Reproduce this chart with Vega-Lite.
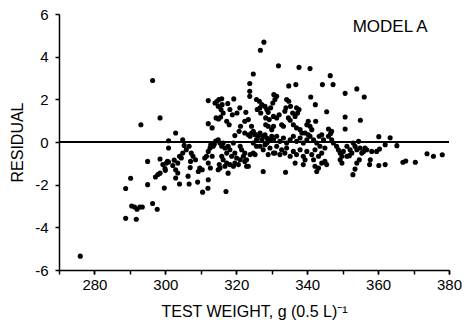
{
  "$schema": "https://vega.github.io/schema/vega-lite/v6.json",
  "width": 390,
  "height": 256,
  "autosize": "none",
  "padding": {"left": 59, "top": 14, "right": 16, "bottom": 60},
  "background": "white",
  "config": {
    "view": {"stroke": null},
    "font": "Liberation Sans",
    "axis": {
      "grid": false,
      "domainColor": "#000",
      "domainWidth": 1.5,
      "tickColor": "#000",
      "tickWidth": 1.5,
      "tickSize": 4,
      "labelColor": "#000",
      "labelFont": "Liberation Sans",
      "labelFontSize": 15,
      "labelOverlap": false,
      "titleColor": "#000",
      "titleFont": "Liberation Sans",
      "titleFontWeight": "normal",
      "titleFontSize": 16
    }
  },
  "resolve": {"axis": {"x": "independent"}},
  "layer": [
    {
      "data": {
        "values": [
          {"weight": 276, "residual": -5.35}, {"weight": 288.8, "residual": -2.18}, {"weight": 290.2, "residual": -1.7}, {"weight": 288.8, "residual": -3.58}, {"weight": 291.8, "residual": -3.62}, {"weight": 290.5, "residual": -3.0}, {"weight": 291.3, "residual": -3.05}, {"weight": 292.0, "residual": -3.15}, {"weight": 292.8, "residual": -3.05}, {"weight": 293.5, "residual": -3.05}, {"weight": 293.1, "residual": 0.81}, {"weight": 296.4, "residual": 2.88}, {"weight": 298.5, "residual": 1.13}, {"weight": 295.0, "residual": -0.91}, {"weight": 295.0, "residual": -2.0}, {"weight": 296.4, "residual": -2.88}, {"weight": 297.7, "residual": -3.15},
          {"weight": 297.2, "residual": -1.64}, {"weight": 297.9, "residual": -1.52}, {"weight": 298.5, "residual": -1.46}, {"weight": 298.5, "residual": -0.8}, {"weight": 299.3, "residual": -1.06}, {"weight": 300.3, "residual": -0.99}, {"weight": 300.9, "residual": -0.94}, {"weight": 300.0, "residual": -1.33}, {"weight": 299.7, "residual": -2.16}, {"weight": 300.9, "residual": 0.06}, {"weight": 300.9, "residual": -0.28}, {"weight": 302.9, "residual": 0.42}, {"weight": 304.9, "residual": 0.1}, {"weight": 305.3, "residual": -0.16}, {"weight": 304.9, "residual": -0.52}, {"weight": 304.5, "residual": -0.75}, {"weight": 305.9, "residual": -0.36}, {"weight": 306.7, "residual": -0.2}, {"weight": 307.3, "residual": -0.52}, {"weight": 307.8, "residual": -0.67}, {"weight": 307.1, "residual": -0.91}, {"weight": 308.5, "residual": -0.83}, {"weight": 300.6, "residual": -0.91}, {"weight": 302.1, "residual": -1.1}, {"weight": 302.9, "residual": -1.3}, {"weight": 303.5, "residual": -0.99}, {"weight": 304.0, "residual": -0.67}, {"weight": 302.9, "residual": -1.69}, {"weight": 304.0, "residual": -1.97}, {"weight": 306.7, "residual": -1.97}, {"weight": 309.1, "residual": -1.88}, {"weight": 310.5, "residual": -2.35}, {"weight": 312.1, "residual": -1.77}, {"weight": 309.3, "residual": -1.38}, {"weight": 309.7, "residual": -1.22}, {"weight": 310.4, "residual": -1.3}, {"weight": 311.1, "residual": -0.75}, {"weight": 311.6, "residual": -0.67}, {"weight": 312.1, "residual": -0.44}, {"weight": 312.6, "residual": -0.28}, {"weight": 312.1, "residual": -0.99}, {"weight": 312.7, "residual": -1.22}, {"weight": 313.2, "residual": -0.67}, {"weight": 313.5, "residual": -0.2}, {"weight": 307.0, "residual": -1.2}, {"weight": 306.4, "residual": -1.6}, {"weight": 303.5, "residual": -1.45}, {"weight": 302.5, "residual": -0.85}, {"weight": 312.8, "residual": -0.13}, {"weight": 299.9, "residual": -1.25}, {"weight": 312.0, "residual": -2.17},
          {"weight": 312.1, "residual": 1.94}, {"weight": 319.3, "residual": 2.02}, {"weight": 314.0, "residual": 1.83}, {"weight": 314.6, "residual": 1.91}, {"weight": 315.1, "residual": 1.99}, {"weight": 315.9, "residual": 2.03}, {"weight": 316.0, "residual": 1.75}, {"weight": 314.9, "residual": 1.67}, {"weight": 315.7, "residual": 1.52}, {"weight": 316.3, "residual": 1.36}, {"weight": 317.6, "residual": 1.8}, {"weight": 318.2, "residual": 1.52}, {"weight": 318.9, "residual": 1.28}, {"weight": 320.2, "residual": 1.36}, {"weight": 321.0, "residual": 1.6}, {"weight": 314.3, "residual": 1.13}, {"weight": 315.0, "residual": 1.08}, {"weight": 315.6, "residual": 1.17}, {"weight": 317.3, "residual": 0.97}, {"weight": 318.0, "residual": 0.81}, {"weight": 312.1, "residual": 0.86}, {"weight": 313.2, "residual": 0.66}, {"weight": 321.2, "residual": 0.74}, {"weight": 320.8, "residual": 0.5}, {"weight": 322.4, "residual": 0.97}, {"weight": 323.4, "residual": 1.05}, {"weight": 322.7, "residual": 1.39}, {"weight": 324.3, "residual": 0.74}, {"weight": 324.8, "residual": 0.5}, {"weight": 325.7, "residual": 0.34}, {"weight": 319.6, "residual": 0.3},
          {"weight": 327.8, "residual": 4.68}, {"weight": 326.8, "residual": 4.3}, {"weight": 331.9, "residual": 3.57}, {"weight": 324.8, "residual": 3.19}, {"weight": 337.7, "residual": 3.5}, {"weight": 340.8, "residual": 3.44}, {"weight": 346.5, "residual": 3.11}, {"weight": 344.3, "residual": 2.69}, {"weight": 347.3, "residual": 2.69}, {"weight": 334.8, "residual": 2.63}, {"weight": 336.8, "residual": 2.69}, {"weight": 323.8, "residual": 2.74}, {"weight": 323.8, "residual": 2.38}, {"weight": 323.8, "residual": 2.14}, {"weight": 350.7, "residual": 2.28}, {"weight": 354.0, "residual": 2.49}, {"weight": 356.1, "residual": 2.11}, {"weight": 341.0, "residual": 2.11}, {"weight": 342.3, "residual": 1.75}, {"weight": 345.5, "residual": 1.42}, {"weight": 350.7, "residual": 1.17}, {"weight": 355.0, "residual": 1.02}, {"weight": 350.7, "residual": 0.61}, {"weight": 346.0, "residual": 0.61}, {"weight": 346.9, "residual": 0.5},
          {"weight": 325.7, "residual": 1.99}, {"weight": 326.5, "residual": 1.91}, {"weight": 327.2, "residual": 1.75}, {"weight": 326.7, "residual": 1.6}, {"weight": 325.9, "residual": 1.52}, {"weight": 326.9, "residual": 1.36}, {"weight": 328.1, "residual": 1.67}, {"weight": 328.6, "residual": 1.52}, {"weight": 329.0, "residual": 1.39}, {"weight": 330.6, "residual": 2.22}, {"weight": 331.4, "residual": 2.14}, {"weight": 330.9, "residual": 1.99}, {"weight": 330.3, "residual": 1.83}, {"weight": 329.7, "residual": 1.6}, {"weight": 328.3, "residual": 1.13}, {"weight": 329.3, "residual": 1.05}, {"weight": 330.5, "residual": 1.2}, {"weight": 331.4, "residual": 1.13}, {"weight": 332.1, "residual": 1.28}, {"weight": 328.3, "residual": 0.81}, {"weight": 329.0, "residual": 0.74}, {"weight": 330.5, "residual": 0.74}, {"weight": 330.0, "residual": 0.58}, {"weight": 332.8, "residual": 0.81}, {"weight": 333.3, "residual": 0.74}, {"weight": 334.2, "residual": 1.99}, {"weight": 334.8, "residual": 1.91}, {"weight": 335.3, "residual": 1.67}, {"weight": 335.9, "residual": 1.36}, {"weight": 334.0, "residual": 1.6}, {"weight": 333.7, "residual": 1.44}, {"weight": 334.7, "residual": 1.13}, {"weight": 335.2, "residual": 1.02}, {"weight": 337.0, "residual": 1.6}, {"weight": 337.7, "residual": 1.52}, {"weight": 337.3, "residual": 1.36}, {"weight": 336.6, "residual": 1.2}, {"weight": 336.1, "residual": 0.81}, {"weight": 337.0, "residual": 0.66}, {"weight": 338.0, "residual": 0.58}, {"weight": 338.5, "residual": 0.42}, {"weight": 340.3, "residual": 0.97}, {"weight": 339.9, "residual": 0.81}, {"weight": 340.8, "residual": 0.74}, {"weight": 341.3, "residual": 0.58}, {"weight": 342.4, "residual": 0.97}, {"weight": 339.4, "residual": 0.42}, {"weight": 340.3, "residual": 0.34}, {"weight": 343.4, "residual": 0.27}, {"weight": 344.1, "residual": 0.34},
          {"weight": 360.2, "residual": 0.25}, {"weight": 363.4, "residual": 0.2}, {"weight": 362.0, "residual": -0.13}, {"weight": 365.3, "residual": -0.17}, {"weight": 360.4, "residual": -0.33}, {"weight": 359.6, "residual": -0.44}, {"weight": 357.8, "residual": -0.83}, {"weight": 357.6, "residual": -1.06}, {"weight": 360.2, "residual": -1.1}, {"weight": 362.0, "residual": -1.06}, {"weight": 367.0, "residual": -0.95}, {"weight": 367.8, "residual": -0.89}, {"weight": 370.5, "residual": -0.95}, {"weight": 373.8, "residual": -0.55}, {"weight": 375.6, "residual": -0.67}, {"weight": 378.1, "residual": -0.6}, {"weight": 353.5, "residual": -1.27}, {"weight": 352.9, "residual": -1.53}, {"weight": 354.7, "residual": -0.83}, {"weight": 354.0, "residual": -0.99},
          {"weight": 314.9, "residual": 0.1}, {"weight": 315.4, "residual": -0.05}, {"weight": 315.9, "residual": -0.2}, {"weight": 316.3, "residual": -0.05}, {"weight": 316.8, "residual": -0.28}, {"weight": 317.3, "residual": -0.52}, {"weight": 317.7, "residual": -0.2}, {"weight": 318.2, "residual": -0.36}, {"weight": 318.7, "residual": -0.67}, {"weight": 319.2, "residual": -0.05}, {"weight": 319.6, "residual": -0.52}, {"weight": 320.1, "residual": -0.75}, {"weight": 315.9, "residual": -0.67}, {"weight": 316.3, "residual": -0.83}, {"weight": 316.8, "residual": -1.14}, {"weight": 317.3, "residual": -0.99}, {"weight": 317.7, "residual": -1.46}, {"weight": 318.2, "residual": -1.06}, {"weight": 319.2, "residual": -1.14}, {"weight": 319.6, "residual": -0.99}, {"weight": 315.2, "residual": -1.06}, {"weight": 315.4, "residual": -1.22}, {"weight": 314.9, "residual": -1.3}, {"weight": 317.1, "residual": -2.32}, {"weight": 320.6, "residual": -1.06}, {"weight": 321.1, "residual": -0.2}, {"weight": 321.5, "residual": -0.36}, {"weight": 322.0, "residual": -0.67}, {"weight": 322.4, "residual": -0.52}, {"weight": 322.9, "residual": -0.83}, {"weight": 323.4, "residual": -1.14}, {"weight": 323.9, "residual": -0.59}, {"weight": 324.8, "residual": -0.52}, {"weight": 325.3, "residual": -0.59}, {"weight": 321.1, "residual": -0.83}, {"weight": 322.4, "residual": -0.91}, {"weight": 322.4, "residual": 0.42}, {"weight": 323.4, "residual": 0.34}, {"weight": 323.9, "residual": 0.27}, {"weight": 324.3, "residual": 0.42}, {"weight": 325.3, "residual": 0.34}, {"weight": 325.7, "residual": 0.1}, {"weight": 326.2, "residual": 0.27}, {"weight": 326.7, "residual": 0.42}, {"weight": 327.2, "residual": 0.1}, {"weight": 327.6, "residual": 0.27}, {"weight": 328.1, "residual": 0.34}, {"weight": 328.6, "residual": 0.19}, {"weight": 329.0, "residual": 0.03}, {"weight": 329.5, "residual": 0.1}, {"weight": 330.0, "residual": 0.27}, {"weight": 326.7, "residual": -0.2}, {"weight": 327.6, "residual": -0.36}, {"weight": 328.6, "residual": -0.05}, {"weight": 329.5, "residual": -0.28}, {"weight": 330.5, "residual": -0.52}, {"weight": 328.1, "residual": -0.13}, {"weight": 329.0, "residual": -0.59}, {"weight": 325.7, "residual": -0.2}, {"weight": 324.8, "residual": -0.05}, {"weight": 327.6, "residual": -1.38}, {"weight": 322.9, "residual": -1.14}, {"weight": 314.2, "residual": 0.05}, {"weight": 313.8, "residual": -0.1},
          {"weight": 330.5, "residual": 0.1}, {"weight": 331.4, "residual": 0.27}, {"weight": 332.3, "residual": 0.03}, {"weight": 333.3, "residual": 0.19}, {"weight": 334.2, "residual": -0.05}, {"weight": 335.2, "residual": 0.1}, {"weight": 336.1, "residual": 0.27}, {"weight": 337.0, "residual": 0.03}, {"weight": 338.0, "residual": 0.19}, {"weight": 338.9, "residual": -0.05}, {"weight": 339.9, "residual": 0.1}, {"weight": 340.8, "residual": 0.27}, {"weight": 341.8, "residual": 0.1}, {"weight": 342.7, "residual": -0.05}, {"weight": 343.6, "residual": -0.2}, {"weight": 344.6, "residual": 0.1}, {"weight": 331.4, "residual": -0.2}, {"weight": 332.8, "residual": -0.36}, {"weight": 333.7, "residual": -0.52}, {"weight": 334.2, "residual": -0.28}, {"weight": 335.2, "residual": -0.67}, {"weight": 336.1, "residual": -0.44}, {"weight": 337.0, "residual": -0.59}, {"weight": 338.0, "residual": -0.36}, {"weight": 338.9, "residual": -0.67}, {"weight": 339.9, "residual": -0.44}, {"weight": 341.3, "residual": -0.59}, {"weight": 342.2, "residual": -0.36}, {"weight": 343.2, "residual": -0.67}, {"weight": 344.1, "residual": -0.52}, {"weight": 345.0, "residual": -0.28}, {"weight": 333.9, "residual": -1.42}, {"weight": 336.6, "residual": -0.99}, {"weight": 338.9, "residual": -1.06}, {"weight": 339.4, "residual": -0.83}, {"weight": 341.8, "residual": -0.83}, {"weight": 342.2, "residual": -1.14}, {"weight": 342.7, "residual": -1.38}, {"weight": 343.2, "residual": -1.22}, {"weight": 344.1, "residual": -0.99}, {"weight": 345.0, "residual": -0.91}, {"weight": 345.5, "residual": -1.06}, {"weight": 332.3, "residual": -0.59}, {"weight": 330.9, "residual": -0.52},
          {"weight": 346.0, "residual": 0.27}, {"weight": 346.9, "residual": 0.1}, {"weight": 347.4, "residual": -0.05}, {"weight": 348.3, "residual": -0.2}, {"weight": 348.8, "residual": -0.36}, {"weight": 349.3, "residual": -0.52}, {"weight": 349.8, "residual": -0.67}, {"weight": 350.2, "residual": -0.44}, {"weight": 351.2, "residual": -0.2}, {"weight": 352.1, "residual": -0.36}, {"weight": 353.0, "residual": -0.05}, {"weight": 353.5, "residual": -0.2}, {"weight": 354.0, "residual": -0.36}, {"weight": 354.5, "residual": 0.03}, {"weight": 354.9, "residual": -0.28}, {"weight": 355.4, "residual": -0.52}, {"weight": 355.9, "residual": -0.44}, {"weight": 356.3, "residual": -0.28}, {"weight": 356.8, "residual": -0.36}, {"weight": 358.2, "residual": -0.44}, {"weight": 349.3, "residual": -0.83}, {"weight": 349.8, "residual": -0.99}, {"weight": 351.2, "residual": -0.67}, {"weight": 351.9, "residual": -0.64}, {"weight": 352.6, "residual": -0.52}, {"weight": 346.6, "residual": 0.4}
        ]
      },
      "mark": {"type": "circle", "size": 26, "color": "#000", "opacity": 1},
      "encoding": {
        "x": {
          "field": "weight",
          "type": "quantitative",
          "scale": {"domain": [270, 380], "nice": false, "zero": false},
          "axis": {
            "orient": "bottom",
            "values": [280, 300, 320, 340, 360, 380],
            "labelOverlap": false,
            "labelFlush": false,
            "labelPadding": 3,
            "title": "TEST WEIGHT, g (0.5 L)⁻¹",
            "titlePadding": 11
          }
        },
        "y": {
          "field": "residual",
          "type": "quantitative",
          "scale": {"domain": [-6, 6], "nice": false, "zero": false},
          "axis": {
            "values": [-6, -5, -4, -3, -2, -1, 0, 1, 2, 3, 4, 5, 6],
            "labelExpr": "datum.value % 2 === 0 ? '' + datum.value : ''",
            "labelOverlap": false,
            "labelPadding": 7,
            "title": "RESIDUAL",
            "titleFontSize": 16,
            "titlePadding": 9
          }
        }
      }
    },
    {
      "data": {"values": [{}]},
      "mark": {"type": "rule", "color": "#000", "strokeWidth": 1.8},
      "encoding": {"y": {"datum": 0}}
    },
    {
      "data": {"values": [{}]},
      "mark": {"type": "text", "text": "MODEL A", "font": "Liberation Sans", "fontSize": 17, "color": "#000", "align": "center", "baseline": "middle"},
      "encoding": {
        "x": {
          "datum": 363.4,
          "axis": {
            "orient": "bottom",
            "values": [270, 280, 290, 300, 310, 320, 330, 340, 350, 360, 370, 380],
            "labels": false,
            "domain": false,
            "title": null
          }
        },
        "y": {"datum": 5.4}
      }
    }
  ]
}
